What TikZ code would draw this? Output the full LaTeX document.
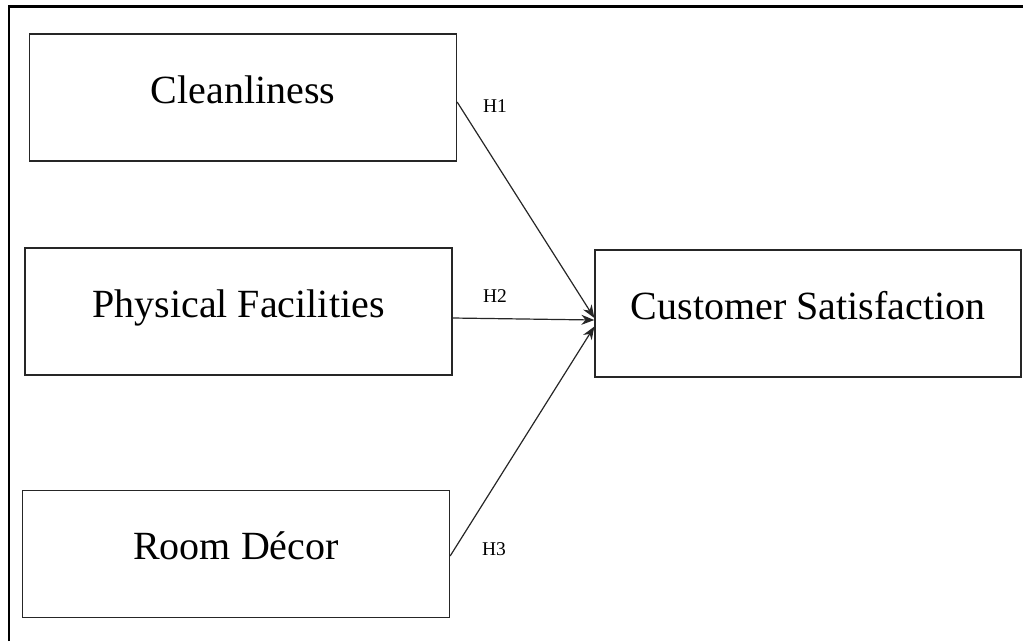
\documentclass[tikz,border=0pt]{standalone}
\usepackage{fontspec}
\setmainfont{Liberation Serif}
\usetikzlibrary{arrows.meta}
\begin{document}
\begin{tikzpicture}[x=1pt,y=-1pt,
  box/.style={draw=black!85,line width=1.3pt,minimum width=427pt,minimum height=127pt,
    inner sep=0pt,font=\fontsize{40}{48}\selectfont,text height=28pt,text depth=17pt},
  hyp/.style={font=\fontsize{19.5}{23}\selectfont,inner sep=0pt},
  conn/.style={draw=black!85,line width=1.2pt,-{Stealth[length=13pt,width=10pt]}}]
\useasboundingbox (0,0) rectangle (1023,641);
\draw[line width=2.2pt] (9,641) -- (9,6.5) -- (1023,6.5);
\node[box] (clean) at (243,97.5) {Cleanliness};
\node[box] (phys) at (238.5,311.5) {Physical Facilities};
\node[box] (room) at (236,554) {Room Décor};
\node[box,minimum width=426pt] (cs) at (808,313.5) {Customer Satisfaction};
\draw[conn] ([yshift=-4.5pt]clean.east) -- ([yshift=-4.5pt]cs.west);
\draw[conn] ([yshift=-6.5pt]phys.east) -- ([yshift=-6.5pt]cs.west);
\draw[conn] ([yshift=-2pt]room.east) -- ([yshift=-13pt]cs.west);
\node[hyp] (h1) at (495,106) {H1};
\node[hyp] (h2) at (495,296) {H2};
\node[hyp] (h3) at (494,549) {H3};
\end{tikzpicture}
\end{document}
